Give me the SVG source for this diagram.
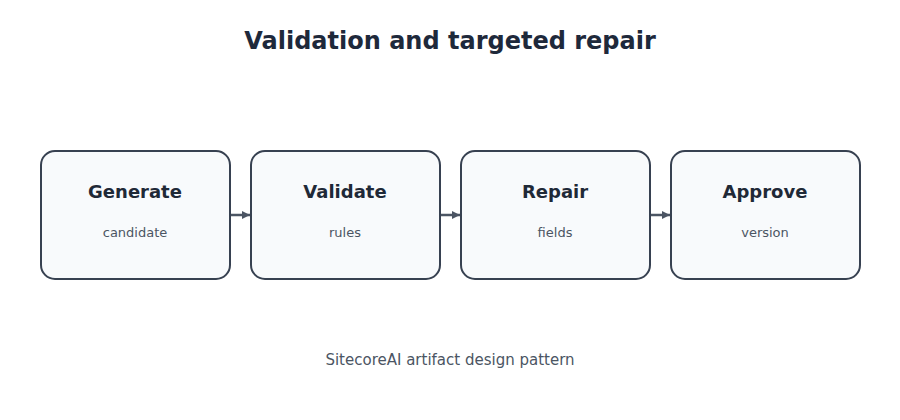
<svg xmlns="http://www.w3.org/2000/svg" width="900" height="420" viewBox="0 0 900 420">
<defs>
<style>
.box{fill:#f8fafc;stroke:#374151;stroke-width:2}
.t{font-family:"DejaVu Sans",sans-serif;font-weight:bold;font-size:18px;fill:#1f2937;text-anchor:middle}
.s{font-family:"DejaVu Sans",sans-serif;font-size:13px;fill:#4b5563;text-anchor:middle}
.c{stroke:#4b5563;stroke-width:2.5;fill:none}
</style>
<marker id="ah" markerWidth="10" markerHeight="10" refX="8" refY="4" orient="auto" markerUnits="userSpaceOnUse">
<path d="M0,0 L8,4 L0,8 Z" fill="#4b5563"/>
</marker>
</defs>
<rect width="900" height="420" fill="#ffffff"/>
<text x="450" y="49" font-family="DejaVu Sans, sans-serif" font-weight="bold" font-size="24" fill="#1e293b" text-anchor="middle">Validation and targeted repair</text>
<g id="connectors">
<line class="c" x1="231" y1="215" x2="250" y2="215" marker-end="url(#ah)"/>
<line class="c" x1="441" y1="215" x2="460" y2="215" marker-end="url(#ah)"/>
<line class="c" x1="651" y1="215" x2="670" y2="215" marker-end="url(#ah)"/>
</g>
<g id="generate">
<rect class="box" x="41" y="151" width="189" height="128" rx="14"/>
<text class="t" x="135" y="198">Generate</text>
<text class="s" x="135" y="237">candidate</text>
</g>
<g id="validate">
<rect class="box" x="251" y="151" width="189" height="128" rx="14"/>
<text class="t" x="345" y="198">Validate</text>
<text class="s" x="345" y="237">rules</text>
</g>
<g id="repair">
<rect class="box" x="461" y="151" width="189" height="128" rx="14"/>
<text class="t" x="555" y="198">Repair</text>
<text class="s" x="555" y="237">fields</text>
</g>
<g id="approve">
<rect class="box" x="671" y="151" width="189" height="128" rx="14"/>
<text class="t" x="765" y="198">Approve</text>
<text class="s" x="765" y="237">version</text>
</g>
<text x="450" y="365" font-family="DejaVu Sans, sans-serif" font-size="15" fill="#4b5563" text-anchor="middle">SitecoreAI artifact design pattern</text>
</svg>
